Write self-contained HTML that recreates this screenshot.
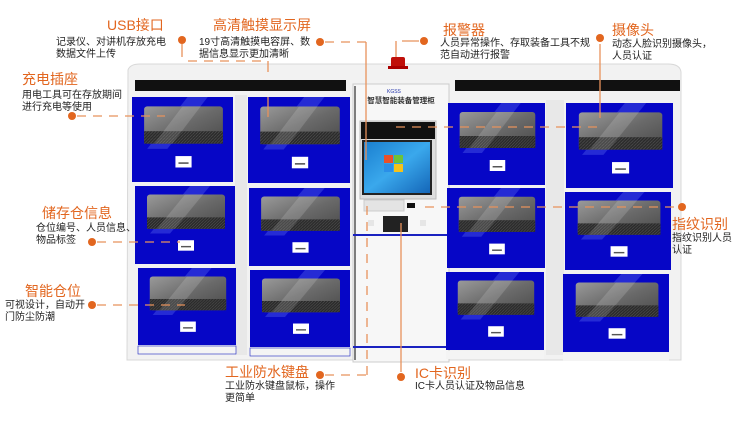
<!DOCTYPE html>
<html><head><meta charset="utf-8"><style>
html,body{margin:0;padding:0;background:#fff;}
svg{display:block;}
.t{font-family:"Liberation Sans","Noto Sans CJK SC",sans-serif;fill:#e2661f;font-size:14px;}
.d{font-family:"Liberation Sans","Noto Sans CJK SC",sans-serif;fill:#222;font-size:10px;}
.ln{stroke:#e8925c;stroke-width:1.3;fill:none;}
.ds{stroke:#e8925c;stroke-width:1.3;fill:none;stroke-dasharray:9 7;}
</style></head><body>
<svg width="750" height="423" viewBox="0 0 750 423" xmlns="http://www.w3.org/2000/svg">
<defs>
<linearGradient id="win" x1="0" y1="0" x2="1" y2="1">
<stop offset="0" stop-color="#9a9a9a"/><stop offset="0.5" stop-color="#6a6a6a"/><stop offset="1" stop-color="#4a4a4a"/></linearGradient>
<linearGradient id="scr" x1="0" y1="0" x2="1" y2="1">
<stop offset="0" stop-color="#1a7fd0"/><stop offset="0.5" stop-color="#3aa8ec"/><stop offset="1" stop-color="#1466b8"/></linearGradient>
<pattern id="mesh" width="3" height="3" patternUnits="userSpaceOnUse"><rect width="3" height="3" fill="#2a2a2a"/><path d="M0,3 L3,0" stroke="#555" stroke-width="0.6"/></pattern>
<symbol id="door" viewBox="0 0 100 82" preserveAspectRatio="none">
<rect x="0" y="0" width="100" height="82" fill="#0606c6"/>
<polygon points="55,0 75,0 35,50 15,50" fill="#3a44e0" opacity="0.6"/>
<rect x="12" y="9" width="78" height="36" rx="3" fill="url(#win)"/>
<rect x="12" y="33" width="78" height="12" fill="url(#mesh)"/>
<polygon points="50,9 68,9 40,45 22,45" fill="#fff" opacity="0.15"/>
<rect x="43" y="57" width="16" height="11" fill="#fff"/>
<rect x="46" y="63" width="10" height="1.5" fill="#555"/>
</symbol>
</defs>
<path d="M128,70 Q130,64 140,64 L668,64 Q680,64 681,72 L681,360 L127,360 Z" fill="#f2f2f2" stroke="#d8d8d8"/>
<rect x="135" y="80" width="211" height="11" fill="#111"/>
<rect x="455" y="80" width="225" height="11" fill="#111"/>
<rect x="353" y="84" width="96" height="278" fill="#f7f7f7" stroke="#ccc"/>
<line x1="355" y1="86" x2="355" y2="360" stroke="#555" stroke-width="1.5"/>
<text x="387" y="93" font-family="Liberation Sans" font-size="5" fill="#2233aa">KGSS</text>
<text x="401" y="103" text-anchor="middle" font-family="Liberation Sans,Noto Sans CJK SC,sans-serif" font-size="7.5" font-weight="bold" fill="#333">智慧智能装备管理柜</text>
<rect x="360" y="121" width="76" height="78" fill="#ddd" stroke="#bbb"/>
<rect x="361" y="122" width="74" height="17" fill="#111"/>
<rect x="362" y="140" width="70" height="55" fill="#222"/>
<rect x="364" y="142" width="66" height="51" fill="url(#scr)"/>
<rect x="384" y="155" width="9" height="8" fill="#e8502a"/><rect x="394" y="155" width="9" height="8" fill="#6cc23a"/>
<rect x="384" y="164" width="9" height="8" fill="#2a8fe8"/><rect x="394" y="164" width="9" height="8" fill="#f5c21a"/>
<rect x="364" y="200" width="40" height="11" fill="#e4e4e4" stroke="#ccc"/>
<rect x="407" y="203" width="8" height="5" fill="#111"/>
<rect x="383" y="216" width="25" height="16" fill="#222"/>
<rect x="368" y="220" width="6" height="6" fill="#e6e6e6"/><rect x="420" y="220" width="6" height="6" fill="#e6e6e6"/>
<rect x="353" y="234" width="96" height="2" fill="#1a22c0"/>
<rect x="353" y="346" width="96" height="2" fill="#1a22c0"/>
<rect x="391" y="57" width="14" height="11" rx="2" fill="#c0100a"/>
<rect x="388" y="66" width="20" height="3" fill="#a00"/>
<rect x="235" y="95" width="12" height="260" fill="#e8e8e8"/>
<rect x="546" y="100" width="18" height="255" fill="#e8e8e8"/>
<use href="#door" x="132" y="97" width="101" height="85"/>
<use href="#door" x="135" y="186" width="100" height="78"/>
<use href="#door" x="138" y="268" width="98" height="77"/>
<use href="#door" x="248" y="97" width="102" height="86"/>
<use href="#door" x="249" y="188" width="101" height="78"/>
<use href="#door" x="250" y="270" width="100" height="77"/>
<use href="#door" x="448" y="103" width="97" height="82"/>
<use href="#door" x="447" y="188" width="98" height="80"/>
<use href="#door" x="446" y="272" width="98" height="78"/>
<use href="#door" x="566" y="103" width="107" height="85"/>
<use href="#door" x="565" y="192" width="106" height="78"/>
<use href="#door" x="563" y="274" width="106" height="78"/>
<rect x="138" y="346" width="98" height="8" fill="#f4f4f4" stroke="#1a22c0" stroke-width="0.6"/>
<rect x="250" y="348" width="100" height="8" fill="#f4f4f4" stroke="#1a22c0" stroke-width="0.6"/>
<rect x="446" y="351" width="98" height="8" fill="#f4f4f4"/>
<rect x="563" y="353" width="106" height="8" fill="#f4f4f4"/>
<path class="ln" d="M182,44 V57"/><path class="ds" d="M188,61 H265"/><path class="ln" d="M268,61 V72"/><path class="ln" d="M268,97 V117"/>
<path class="ds" d="M325,42 H366"/><path class="ln" d="M366,42 V160"/>
<path class="ds" d="M77,116 H165"/>
<path class="ds" d="M97,242 H180"/>
<path class="ds" d="M97,305 H185"/>
<path class="ds" d="M325,375 H367"/><path class="ds" d="M367,375 V200"/>
<path class="ln" d="M401,372 V223"/>
<path class="ln" d="M396,41 V57"/><path class="ln" d="M402,41 H419"/>
<path class="ln" d="M600,44 V118"/>
<path class="ds" d="M396,127 H598"/>
<path class="ds" d="M425,207 H677"/>
<g fill="#e2661f">
<circle cx="182" cy="40" r="4"/><circle cx="320" cy="42" r="4"/><circle cx="72" cy="116" r="4"/>
<circle cx="92" cy="242" r="4"/><circle cx="92" cy="305" r="4"/><circle cx="320" cy="375" r="4"/>
<circle cx="401" cy="377" r="4"/><circle cx="424" cy="41" r="4"/><circle cx="600" cy="38" r="4"/><circle cx="682" cy="207" r="4"/>
</g>
<text class="t" x="107" y="30">USB接口</text>
<text class="d" x="56" y="45">记录仪、对讲机存放充电</text><text class="d" x="56" y="57">数据文件上传</text>
<text class="t" x="213" y="30">高清触摸显示屏</text>
<text class="d" x="199" y="45">19寸高清触摸电容屏、数</text><text class="d" x="199" y="57">据信息显示更加清晰</text>
<text class="t" x="22" y="84">充电插座</text>
<text class="d" x="22" y="98">用电工具可在存放期间</text><text class="d" x="22" y="110">进行充电等使用</text>
<text class="t" x="42" y="218">储存仓信息</text>
<text class="d" x="36" y="231">仓位编号、人员信息、</text><text class="d" x="36" y="243">物品标签</text>
<text class="t" x="25" y="296">智能仓位</text>
<text class="d" x="5" y="308">可视设计，自动开</text><text class="d" x="5" y="320">门防尘防潮</text>
<text class="t" x="225" y="377">工业防水键盘</text>
<text class="d" x="225" y="389">工业防水键盘鼠标，操作</text><text class="d" x="225" y="401">更简单</text>
<text class="t" x="415" y="378">IC卡识别</text>
<text class="d" x="415" y="389">IC卡人员认证及物品信息</text>
<text class="t" x="443" y="35">报警器</text>
<text class="d" x="440" y="46">人员异常操作、存取装备工具不规</text><text class="d" x="440" y="58">范自动进行报警</text>
<text class="t" x="612" y="35">摄像头</text>
<text class="d" x="612" y="47">动态人脸识别摄像头，</text><text class="d" x="612" y="59">人员认证</text>
<text class="t" x="672" y="229">指纹识别</text>
<text class="d" x="672" y="241">指纹识别人员</text><text class="d" x="672" y="253">认证</text>
</svg>
</body></html>
